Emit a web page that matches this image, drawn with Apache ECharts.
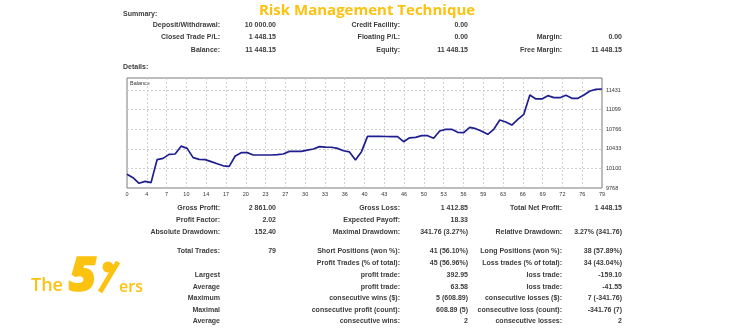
<!DOCTYPE html>
<html>
<head>
<meta charset="utf-8">
<script src="https://cdn.jsdelivr.net/npm/echarts@6/dist/echarts.min.js"></script>
<style>
  html, body { margin: 0; padding: 0; background: #ffffff; }
  #chart { width: 741px; height: 329px; }
</style>
</head>
<body>
<div id="chart"></div>
<script>
// Account balance after each closed trade (index 0 = initial deposit)
const balance = [
  10000, 9943, 9848, 9881, 9859, 10249, 10271, 10339, 10345, 10478,
  10441, 10283, 10255, 10249, 10215, 10180, 10145, 10136, 10311, 10368,
  10368, 10328, 10328, 10328, 10328, 10335, 10345, 10390, 10390, 10390,
  10410, 10430, 10470, 10462, 10460, 10440, 10400, 10380, 10243, 10385,
  10645, 10644, 10643, 10642, 10640, 10639, 10554, 10620, 10628, 10656,
  10656, 10611, 10735, 10764, 10764, 10713, 10707, 10798, 10775, 10730,
  10679, 10764, 10922, 10888, 10837, 10933, 11018, 11346, 11279, 11279,
  11335, 11301, 11301, 11341, 11290, 11290, 11346, 11414, 11442, 11448.15
];

// Axis tick labels
const xTickLabels = [0, 4, 7, 10, 14, 17, 20, 23, 27, 30, 33, 36, 40, 43, 46, 50, 53, 56, 59, 63, 66, 69, 72, 76, 79];
const yTickLabels = [9768, 10100, 10433, 10766, 11099, 11431];

// Report tables: [label, value, label, value, label, value]
const summaryRows = [
  ['Deposit/Withdrawal:', '10 000.00', 'Credit Facility:', '0.00', '', ''],
  ['Closed Trade P/L:', '1 448.15', 'Floating P/L:', '0.00', 'Margin:', '0.00'],
  ['Balance:', '11 448.15', 'Equity:', '11 448.15', 'Free Margin:', '11 448.15']
];
const statsRows = [
  ['Gross Profit:', '2 861.00', 'Gross Loss:', '1 412.85', 'Total Net Profit:', '1 448.15'],
  ['Profit Factor:', '2.02', 'Expected Payoff:', '18.33', '', ''],
  ['Absolute Drawdown:', '152.40', 'Maximal Drawdown:', '341.76 (3.27%)', 'Relative Drawdown:', '3.27% (341.76)'],
  ['Total Trades:', '79', 'Short Positions (won %):', '41 (56.10%)', 'Long Positions (won %):', '38 (57.89%)'],
  ['', '', 'Profit Trades (% of total):', '45 (56.96%)', 'Loss trades (% of total):', '34 (43.04%)'],
  ['Largest', '', 'profit trade:', '392.95', 'loss trade:', '-159.10'],
  ['Average', '', 'profit trade:', '63.58', 'loss trade:', '-41.55'],
  ['Maximum', '', 'consecutive wins ($):', '5 (608.89)', 'consecutive losses ($):', '7 (-341.76)'],
  ['Maximal', '', 'consecutive profit (count):', '608.89 (5)', 'consecutive loss (count):', '-341.76 (7)'],
  ['Average', '', 'consecutive wins:', '2', 'consecutive losses:', '2']
];

const titleText = 'Risk Management Technique';
const GOLD = '#FCC210';
const TEXT = '#3c3c3c';
const FONT = '"Liberation Sans", Arial, sans-serif';

// layout of the report columns (right edges) and row positions
const colRight = [220, 276, 400, 468, 562, 622];
const summaryY = [25, 37, 50];
const statsY = [208, 220.5, 232.5, 251, 263.5, 275.5, 287, 298.5, 310, 321.5];

const lastIndex = balance.length - 1;
const xTickPos = xTickLabels.map((_, k) => k * lastIndex / (xTickLabels.length - 1));

function tableText(rows, ys) {
  const out = [];
  rows.forEach((row, r) => {
    row.forEach((cell, c) => {
      if (!cell) return;
      out.push({
        type: 'text', x: colRight[c], y: ys[r], silent: true,
        style: {
          text: cell, fill: TEXT, font: 'bold 7px ' + FONT,
          textAlign: 'right', textVerticalAlign: 'middle'
        }
      });
    });
  });
  return out;
}

const graphics = [
  { type: 'text', x: 367, y: 11, style: { text: titleText, fill: GOLD, font: 'bold 15px "Open Sans", sans-serif', textAlign: 'center', textVerticalAlign: 'middle' } },
  { type: 'text', x: 123, y: 14, style: { text: 'Summary:', fill: TEXT, font: 'bold 7px ' + FONT, textVerticalAlign: 'middle' } },
  { type: 'text', x: 123, y: 67, style: { text: 'Details:', fill: TEXT, font: 'bold 7px ' + FONT, textVerticalAlign: 'middle' } },
  { type: 'text', x: 130, y: 83, style: { text: 'Balance', fill: '#333', font: '5.5px ' + FONT, textVerticalAlign: 'middle' } },
  // brand mark
  { type: 'text', x: 31, y: 286, style: { text: 'The', fill: GOLD, font: '600 18px "Open Sans", sans-serif', textVerticalAlign: 'middle' } },
  { type: 'text', x: 69, y: 278, style: { text: '5', fill: GOLD, stroke: GOLD, lineWidth: 1.5, font: 'italic 900 47px "Open Sans", sans-serif', textVerticalAlign: 'middle' } },
  { type: 'line', shape: { x1: 100, y1: 292, x2: 118, y2: 262 }, style: { stroke: GOLD, lineWidth: 5 } },
  { type: 'circle', shape: { cx: 108, cy: 267, r: 5.5 }, style: { fill: GOLD } },
  { type: 'text', x: 119, y: 287, style: { text: 'ers', fill: GOLD, font: '600 16px "Open Sans", sans-serif', textVerticalAlign: 'middle' } }
].concat(tableText(summaryRows, summaryY), tableText(statsRows, statsY));

const chart = echarts.init(document.getElementById('chart'), null, { renderer: 'canvas' });
chart.setOption({
  animation: false,
  backgroundColor: '#ffffff',
  grid: { left: 127, top: 78, width: 475, height: 110, show: true, borderColor: '#7a7a7a', borderWidth: 1, backgroundColor: 'transparent' },
  xAxis: {
    type: 'value', min: 0, max: lastIndex,
    axisLine: { show: false }, axisTick: { show: false, customValues: xTickPos }, splitLine: { show: false },
    axisLabel: {
      customValues: xTickPos, margin: 3, fontSize: 5.5, color: '#333', fontFamily: FONT,
      formatter: v => String(xTickLabels[Math.round(v * (xTickLabels.length - 1) / lastIndex)])
    }
  },
  yAxis: {
    type: 'value', position: 'right', min: 9768, max: 11635,
    axisLine: { show: false }, axisTick: { show: false, customValues: yTickLabels }, splitLine: { show: false },
    axisLabel: { customValues: yTickLabels, margin: 4, fontSize: 5.5, color: '#333', fontFamily: FONT, formatter: v => String(v) }
  },
  series: [
    {
      // dashed grid behind the balance curve
      type: 'line', data: [], z: 1, silent: true,
      markLine: {
        silent: true, symbol: 'none', label: { show: false }, animation: false,
        lineStyle: { color: '#cfcfcf', type: [2, 2], width: 1 },
        data: yTickLabels.slice(1).map(v => ({ yAxis: v }))
          .concat(xTickPos.slice(1, -1).map(v => ({ xAxis: v })))
      }
    },
    {
      name: 'Balance',
      type: 'line',
      data: balance.map((v, i) => [i, v]),
      showSymbol: false,
      lineStyle: { color: '#1e1e8e', width: 1.7 },
      z: 5
    }
  ],
  graphic: graphics
});
</script>
</body>
</html>
